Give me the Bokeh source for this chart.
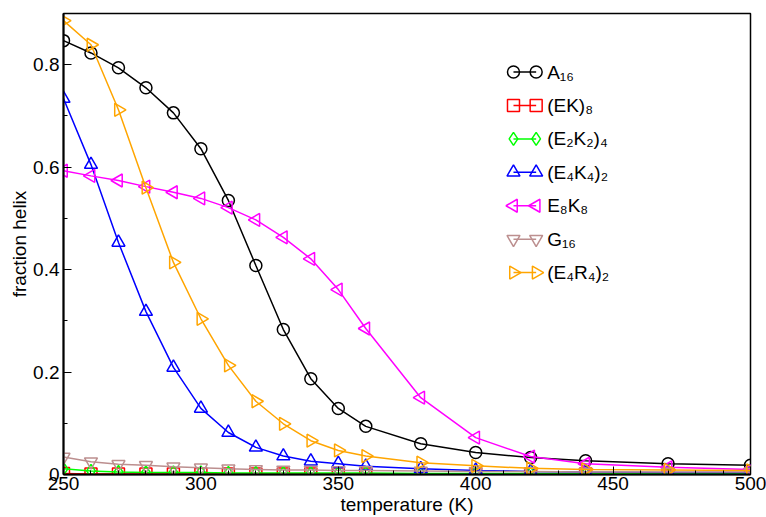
import numpy as np
from bokeh.plotting import figure
from bokeh.models import Range1d, FixedTicker, ColumnDataSource
from bokeh.core.properties import value
from bokeh.embed import file_html
from bokeh.resources import INLINE

temperature = [250, 260, 270, 280, 290, 300, 310, 320, 330, 340, 350, 360, 380, 400, 420, 440, 470, 500]

a16 = [0.847, 0.823, 0.794, 0.755, 0.706, 0.636, 0.535, 0.408, 0.283, 0.187, 0.129, 0.094, 0.060, 0.043, 0.033, 0.027, 0.021, 0.018]
ek8 = [0.002, 0.001, 0.001, 0.001, 0.001, 0.001, 0.001, 0.001, 0.001, 0.001, 0.001, 0.001, 0.001, 0.001, 0.001, 0.001, 0.001, 0.001]
e2k2_4 = [0.011, 0.007, 0.005, 0.004, 0.004, 0.004, 0.003, 0.003, 0.003, 0.003, 0.003, 0.003, 0.002, 0.002, 0.002, 0.002, 0.002, 0.002]
e4k4_2 = [0.734, 0.605, 0.453, 0.318, 0.209, 0.129, 0.082, 0.053, 0.036, 0.026, 0.021, 0.016, 0.011, 0.008, 0.006, 0.005, 0.004, 0.004]
e8k8 = [0.593, 0.583, 0.574, 0.562, 0.551, 0.539, 0.521, 0.497, 0.463, 0.421, 0.361, 0.285, 0.150, 0.072, 0.035, 0.021, 0.014, 0.010]
g16 = [0.034, 0.025, 0.020, 0.018, 0.015, 0.013, 0.011, 0.010, 0.009, 0.009, 0.008, 0.008, 0.007, 0.006, 0.006, 0.005, 0.005, 0.005]
e4r4_2 = [0.886, 0.839, 0.712, 0.560, 0.414, 0.304, 0.213, 0.143, 0.099, 0.066, 0.047, 0.036, 0.023, 0.017, 0.012, 0.010, 0.009, 0.008]

labels = ["A₁₆", "(EK)₈", "(E₂K₂)₄", "(E₄K₄)₂", "E₈K₈", "G₁₆", "(E₄R₄)₂"]
values = [a16, ek8, e2k2_4, e4k4_2, e8k8, g16, e4r4_2]
colors = ["black", "red", "#00ff00", "blue", "magenta", "#bc8f8f", "orange"]
markers = ["circle", "square", "diamond", "triangle", "triangle", "inverted_triangle", "triangle"]
angles = [0.0, 0.0, 0.0, 0.0, np.pi / 2, 0.0, -np.pi / 2]
sizes = [12, 12, 13, 13, 13, 13, 13]

p = figure(width=766, height=517, output_backend="svg", toolbar_location=None,
           x_range=Range1d(250, 500), y_range=Range1d(0, 0.9),
           min_border_left=63, min_border_right=16, min_border_top=13, min_border_bottom=43)
# frame-fraction coordinates used only to lay out the legend samples
p.extra_x_ranges = {"lx": Range1d(0, 1)}
p.extra_y_ranges = {"ly": Range1d(0, 1)}

p.background_fill_color = "white"
p.border_fill_color = "white"
p.outline_line_color = "black"
p.outline_line_width = 1.5
p.xgrid.visible = False
p.ygrid.visible = False

font = "Liberation Sans"
for ax in (p.xaxis[0], p.yaxis[0]):
    ax.axis_line_width = 2
    ax.axis_line_color = "black"
    ax.major_tick_in = 8
    ax.major_tick_out = 0
    ax.minor_tick_in = 4
    ax.minor_tick_out = 0
    ax.major_tick_line_color = "black"
    ax.minor_tick_line_color = "black"
    ax.major_label_text_font = font
    ax.major_label_text_font_size = "19px"
    ax.major_label_text_color = "black"
    ax.axis_label_text_font = font
    ax.axis_label_text_font_size = "19px"
    ax.axis_label_text_font_style = "normal"
    ax.axis_label_text_color = "black"

p.xaxis.ticker = FixedTicker(ticks=[250, 300, 350, 400, 450, 500],
                             minor_ticks=list(range(250, 501, 10)))
p.yaxis.ticker = FixedTicker(ticks=[0, 0.2, 0.4, 0.6, 0.8],
                             minor_ticks=[0.1, 0.3, 0.5, 0.7])
p.yaxis.major_label_overrides = {0: "0"}
p.xaxis.axis_label = "temperature (K)"
p.yaxis.axis_label = "fraction helix"
p.xaxis.major_label_standoff = 2
p.xaxis.axis_label_standoff = 1
p.yaxis.major_label_standoff = 4
p.yaxis.axis_label_standoff = 0

n = len(temperature)
for vals, color, marker, ang, sz in zip(values, colors, markers, angles, sizes):
    src = ColumnDataSource(dict(x=temperature, y=vals, angle=[ang] * n))
    p.line("x", "y", source=src, line_color=color, line_width=1.5)
    p.scatter("x", "y", source=src, marker=marker, angle="angle", size=sz,
              fill_color=None, line_color=color, line_width=1.5)

# legend (xmgrace style: marker - line - marker, then label)
lx0, lx1, ltx = 0.655, 0.688, 0.704
ly_top, ly_step = 1 - 0.127, 0.0725
for i, (label, color, marker, ang, sz) in enumerate(zip(labels, colors, markers, angles, sizes)):
    yy = ly_top - ly_step * i
    p.line([lx0, lx1], [yy, yy], line_color=color, line_width=1.5,
           x_range_name="lx", y_range_name="ly")
    p.scatter([lx0, lx1], [yy, yy], marker=marker, angle=ang, size=sz,
              fill_color=None, line_color=color, line_width=1.5,
              x_range_name="lx", y_range_name="ly")
    p.text([ltx], [yy], text=[label], text_font=value(font), text_font_size="19px",
           text_color="black", text_baseline="middle", text_align="left",
           x_range_name="lx", y_range_name="ly")

open("out.html", "w").write(file_html(p, INLINE))
